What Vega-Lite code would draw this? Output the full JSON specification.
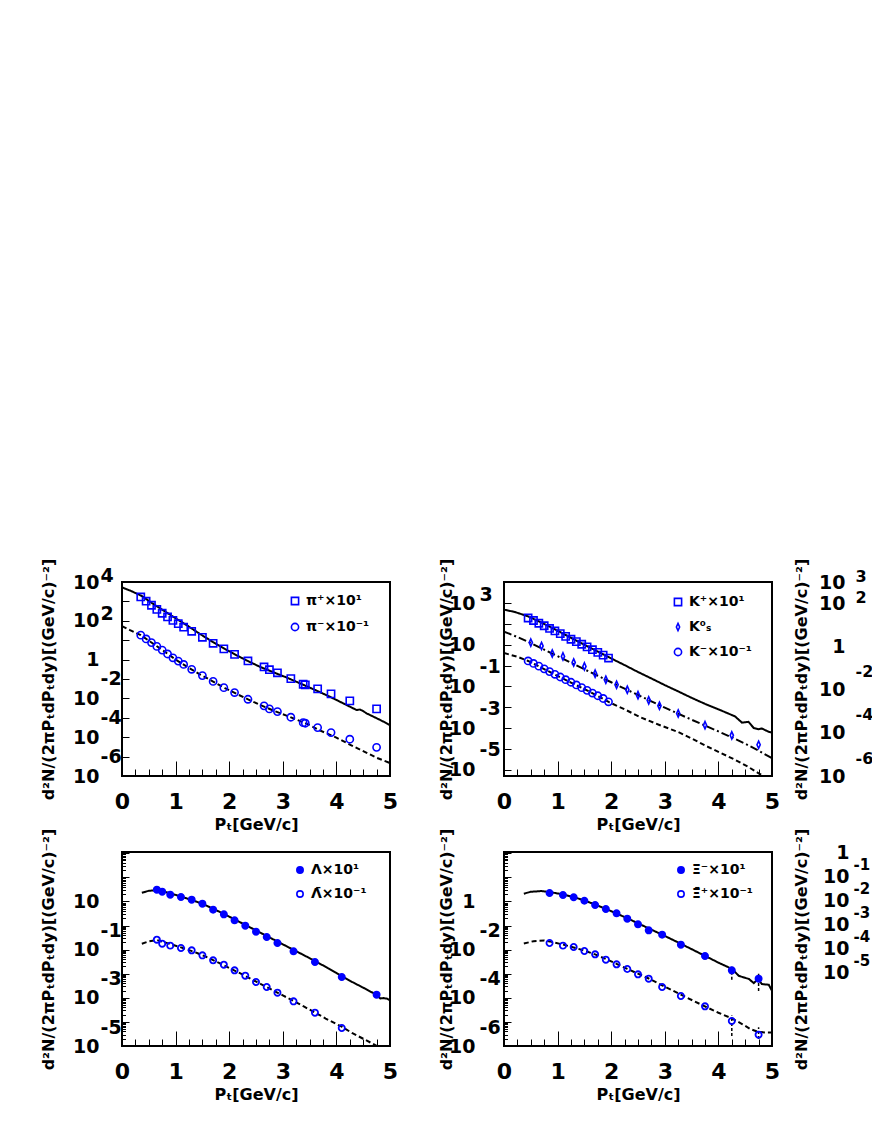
{
  "$schema": "https://vega.github.io/schema/vega-lite/v6.json",
  "padding": {"left": 38, "top": 557, "right": 0, "bottom": 5},
  "background": "white",
  "columns": 3,
  "spacing": {"row": 76, "column": 114},
  "bounds": "flush",
  "align": "each",
  "datasets": {
    "empty": [],
    "p1pts": [
      {"pt":0.35,"yield":1698,"series":"π⁺×10¹"},{"pt":0.45,"yield":1023,"series":"π⁺×10¹"},{"pt":0.55,"yield":631,"series":"π⁺×10¹"},{"pt":0.65,"yield":389,"series":"π⁺×10¹"},{"pt":0.75,"yield":245,"series":"π⁺×10¹"},{"pt":0.85,"yield":158,"series":"π⁺×10¹"},{"pt":0.95,"yield":105,"series":"π⁺×10¹"},{"pt":1.05,"yield":70.8,"series":"π⁺×10¹"},{"pt":1.15,"yield":46.8,"series":"π⁺×10¹"},{"pt":1.3,"yield":28.8,"series":"π⁺×10¹"},{"pt":1.5,"yield":14.1,"series":"π⁺×10¹"},{"pt":1.7,"yield":6.92,"series":"π⁺×10¹"},{"pt":1.9,"yield":3.55,"series":"π⁺×10¹"},{"pt":2.1,"yield":1.86,"series":"π⁺×10¹"},{"pt":2.35,"yield":0.851,"series":"π⁺×10¹"},{"pt":2.65,"yield":0.417,"series":"π⁺×10¹"},{"pt":2.75,"yield":0.302,"series":"π⁺×10¹"},{"pt":2.9,"yield":0.209,"series":"π⁺×10¹"},{"pt":3.15,"yield":0.105,"series":"π⁺×10¹"},{"pt":3.38,"yield":0.0537,"series":"π⁺×10¹"},{"pt":3.42,"yield":0.0501,"series":"π⁺×10¹"},{"pt":3.65,"yield":0.0309,"series":"π⁺×10¹"},{"pt":3.9,"yield":0.017,"series":"π⁺×10¹"},{"pt":4.25,"yield":0.00741,"series":"π⁺×10¹"},{"pt":4.75,"yield":0.00288,"series":"π⁺×10¹"},
      {"pt":0.35,"yield":18.2,"series":"π⁻×10⁻¹"},{"pt":0.45,"yield":11.6,"series":"π⁻×10⁻¹"},{"pt":0.55,"yield":7.5,"series":"π⁻×10⁻¹"},{"pt":0.65,"yield":4.79,"series":"π⁻×10⁻¹"},{"pt":0.75,"yield":3.09,"series":"π⁻×10⁻¹"},{"pt":0.85,"yield":1.95,"series":"π⁻×10⁻¹"},{"pt":0.95,"yield":1.24,"series":"π⁻×10⁻¹"},{"pt":1.05,"yield":0.838,"series":"π⁻×10⁻¹"},{"pt":1.15,"yield":0.562,"series":"π⁻×10⁻¹"},{"pt":1.3,"yield":0.316,"series":"π⁻×10⁻¹"},{"pt":1.5,"yield":0.15,"series":"π⁻×10⁻¹"},{"pt":1.7,"yield":0.075,"series":"π⁻×10⁻¹"},{"pt":1.9,"yield":0.0359,"series":"π⁻×10⁻¹"},{"pt":2.1,"yield":0.02,"series":"π⁻×10⁻¹"},{"pt":2.35,"yield":0.00902,"series":"π⁻×10⁻¹"},{"pt":2.65,"yield":0.00412,"series":"π⁻×10⁻¹"},{"pt":2.75,"yield":0.00288,"series":"π⁻×10⁻¹"},{"pt":2.9,"yield":0.00209,"series":"π⁻×10⁻¹"},{"pt":3.15,"yield":0.00107,"series":"π⁻×10⁻¹"},{"pt":3.38,"yield":0.000562,"series":"π⁻×10⁻¹"},{"pt":3.42,"yield":0.000525,"series":"π⁻×10⁻¹"},{"pt":3.65,"yield":0.000313,"series":"π⁻×10⁻¹"},{"pt":3.9,"yield":0.000174,"series":"π⁻×10⁻¹"},{"pt":4.25,"yield":0.0000785,"series":"π⁻×10⁻¹"},{"pt":4.75,"yield":0.0000299,"series":"π⁻×10⁻¹"}
    ],
    "p1cur": [
      {"pt":0,"yield":5248,"curve":"pip"},{"pt":0.15,"yield":3631,"curve":"pip"},{"pt":0.37,"yield":1905,"curve":"pip"},{"pt":0.55,"yield":851,"curve":"pip"},{"pt":0.77,"yield":347,"curve":"pip"},{"pt":1.0,"yield":135,"curve":"pip"},{"pt":1.21,"yield":58.9,"curve":"pip"},{"pt":1.45,"yield":21.4,"curve":"pip"},{"pt":1.7,"yield":7.94,"curve":"pip"},{"pt":1.92,"yield":3.55,"curve":"pip"},{"pt":2.14,"yield":1.66,"curve":"pip"},{"pt":2.36,"yield":0.813,"curve":"pip"},{"pt":2.58,"yield":0.417,"curve":"pip"},{"pt":2.82,"yield":0.224,"curve":"pip"},{"pt":3.07,"yield":0.12,"curve":"pip"},{"pt":3.26,"yield":0.0708,"curve":"pip"},{"pt":3.45,"yield":0.0417,"curve":"pip"},{"pt":3.63,"yield":0.0251,"curve":"pip"},{"pt":3.82,"yield":0.0145,"curve":"pip"},{"pt":4.0,"yield":0.00832,"curve":"pip"},{"pt":4.19,"yield":0.00457,"curve":"pip"},{"pt":4.32,"yield":0.00302,"curve":"pip"},{"pt":4.38,"yield":0.00251,"curve":"pip"},{"pt":4.44,"yield":0.00269,"curve":"pip"},{"pt":4.5,"yield":0.00219,"curve":"pip"},{"pt":4.57,"yield":0.00166,"curve":"pip"},{"pt":4.69,"yield":0.00115,"curve":"pip"},{"pt":4.88,"yield":0.000631,"curve":"pip"},{"pt":5.0,"yield":0.000417,"curve":"pip"},
      {"pt":0,"yield":53.7,"curve":"pim"},{"pt":0.15,"yield":33.1,"curve":"pim"},{"pt":0.35,"yield":18.2,"curve":"pim"},{"pt":0.55,"yield":7.59,"curve":"pim"},{"pt":0.77,"yield":2.88,"curve":"pim"},{"pt":1.0,"yield":1.0,"curve":"pim"},{"pt":1.21,"yield":0.437,"curve":"pim"},{"pt":1.45,"yield":0.174,"curve":"pim"},{"pt":1.7,"yield":0.0741,"curve":"pim"},{"pt":1.92,"yield":0.0339,"curve":"pim"},{"pt":2.14,"yield":0.017,"curve":"pim"},{"pt":2.36,"yield":0.00871,"curve":"pim"},{"pt":2.58,"yield":0.00457,"curve":"pim"},{"pt":2.82,"yield":0.0024,"curve":"pim"},{"pt":3.07,"yield":0.00129,"curve":"pim"},{"pt":3.26,"yield":0.000794,"curve":"pim"},{"pt":3.45,"yield":0.00049,"curve":"pim"},{"pt":3.69,"yield":0.000224,"curve":"pim"},{"pt":4.0,"yield":0.0000955,"curve":"pim"},{"pt":4.25,"yield":0.0000417,"curve":"pim"},{"pt":4.5,"yield":0.0000191,"curve":"pim"},{"pt":4.76,"yield":0.00000851,"curve":"pim"},{"pt":5.0,"yield":0.00000468,"curve":"pim"}
    ],
    "p2pts": [
      {"pt":0.45,"yield":190.5,"series":"K⁺×10¹"},{"pt":0.55,"yield":144.5,"series":"K⁺×10¹"},{"pt":0.65,"yield":107.2,"series":"K⁺×10¹"},{"pt":0.75,"yield":81.3,"series":"K⁺×10¹"},{"pt":0.85,"yield":60.3,"series":"K⁺×10¹"},{"pt":0.95,"yield":45.7,"series":"K⁺×10¹"},{"pt":1.05,"yield":33.9,"series":"K⁺×10¹"},{"pt":1.15,"yield":25.1,"series":"K⁺×10¹"},{"pt":1.25,"yield":18.2,"series":"K⁺×10¹"},{"pt":1.35,"yield":14.1,"series":"K⁺×10¹"},{"pt":1.45,"yield":10.5,"series":"K⁺×10¹"},{"pt":1.55,"yield":7.9,"series":"K⁺×10¹"},{"pt":1.65,"yield":5.75,"series":"K⁺×10¹"},{"pt":1.75,"yield":4.27,"series":"K⁺×10¹"},{"pt":1.85,"yield":3.16,"series":"K⁺×10¹"},{"pt":1.95,"yield":2.29,"series":"K⁺×10¹"},
      {"pt":0.5,"yield":12.6,"series":"K⁰ₛ"},{"pt":0.7,"yield":8.71,"series":"K⁰ₛ"},{"pt":0.9,"yield":3.8,"series":"K⁰ₛ"},{"pt":1.1,"yield":2.75,"series":"K⁰ₛ"},{"pt":1.3,"yield":1.41,"series":"K⁰ₛ"},{"pt":1.5,"yield":0.912,"series":"K⁰ₛ"},{"pt":1.7,"yield":0.407,"series":"K⁰ₛ"},{"pt":1.9,"yield":0.209,"series":"K⁰ₛ"},{"pt":2.1,"yield":0.12,"series":"K⁰ₛ"},{"pt":2.3,"yield":0.0692,"series":"K⁰ₛ"},{"pt":2.5,"yield":0.038,"series":"K⁰ₛ"},{"pt":2.7,"yield":0.0214,"series":"K⁰ₛ"},{"pt":2.9,"yield":0.0117,"series":"K⁰ₛ"},{"pt":3.25,"yield":0.00501,"series":"K⁰ₛ"},{"pt":3.75,"yield":0.00138,"series":"K⁰ₛ"},{"pt":4.25,"yield":0.000447,"series":"K⁰ₛ"},{"pt":4.75,"yield":0.000158,"series":"K⁰ₛ"},
      {"pt":0.45,"yield":1.66,"series":"K⁻×10⁻¹"},{"pt":0.55,"yield":1.26,"series":"K⁻×10⁻¹"},{"pt":0.65,"yield":0.933,"series":"K⁻×10⁻¹"},{"pt":0.75,"yield":0.692,"series":"K⁻×10⁻¹"},{"pt":0.85,"yield":0.513,"series":"K⁻×10⁻¹"},{"pt":0.95,"yield":0.38,"series":"K⁻×10⁻¹"},{"pt":1.05,"yield":0.282,"series":"K⁻×10⁻¹"},{"pt":1.15,"yield":0.209,"series":"K⁻×10⁻¹"},{"pt":1.25,"yield":0.158,"series":"K⁻×10⁻¹"},{"pt":1.35,"yield":0.117,"series":"K⁻×10⁻¹"},{"pt":1.45,"yield":0.0871,"series":"K⁻×10⁻¹"},{"pt":1.55,"yield":0.0646,"series":"K⁻×10⁻¹"},{"pt":1.65,"yield":0.0479,"series":"K⁻×10⁻¹"},{"pt":1.75,"yield":0.0355,"series":"K⁻×10⁻¹"},{"pt":1.85,"yield":0.0263,"series":"K⁻×10⁻¹"},{"pt":1.95,"yield":0.0182,"series":"K⁻×10⁻¹"}
    ],
    "p2cur": [
      {"pt":0,"yield":479,"curve":"kp"},{"pt":0.2,"yield":372,"curve":"kp"},{"pt":0.45,"yield":229,"curve":"kp"},{"pt":0.7,"yield":115,"curve":"kp"},{"pt":1.0,"yield":46.8,"curve":"kp"},{"pt":1.25,"yield":21.4,"curve":"kp"},{"pt":1.5,"yield":10,"curve":"kp"},{"pt":1.75,"yield":4.68,"curve":"kp"},{"pt":2.0,"yield":2.19,"curve":"kp"},{"pt":2.25,"yield":1.05,"curve":"kp"},{"pt":2.5,"yield":0.49,"curve":"kp"},{"pt":2.75,"yield":0.24,"curve":"kp"},{"pt":3.0,"yield":0.115,"curve":"kp"},{"pt":3.25,"yield":0.0575,"curve":"kp"},{"pt":3.5,"yield":0.0282,"curve":"kp"},{"pt":3.75,"yield":0.0145,"curve":"kp"},{"pt":4.0,"yield":0.00794,"curve":"kp"},{"pt":4.2,"yield":0.00479,"curve":"kp"},{"pt":4.31,"yield":0.00363,"curve":"kp"},{"pt":4.44,"yield":0.00182,"curve":"kp"},{"pt":4.56,"yield":0.002,"curve":"kp"},{"pt":4.66,"yield":0.001,"curve":"kp"},{"pt":4.75,"yield":0.000871,"curve":"kp"},{"pt":4.81,"yield":0.000955,"curve":"kp"},{"pt":4.94,"yield":0.000661,"curve":"kp"},{"pt":5.0,"yield":0.000603,"curve":"kp"},
      {"pt":0,"yield":42.7,"curve":"ks"},{"pt":0.25,"yield":23.4,"curve":"ks"},{"pt":0.5,"yield":12.0,"curve":"ks"},{"pt":0.75,"yield":5.75,"curve":"ks"},{"pt":1.0,"yield":2.82,"curve":"ks"},{"pt":1.25,"yield":1.35,"curve":"ks"},{"pt":1.5,"yield":0.661,"curve":"ks"},{"pt":1.75,"yield":0.324,"curve":"ks"},{"pt":2.0,"yield":0.158,"curve":"ks"},{"pt":2.25,"yield":0.0776,"curve":"ks"},{"pt":2.5,"yield":0.0389,"curve":"ks"},{"pt":2.75,"yield":0.0191,"curve":"ks"},{"pt":3.0,"yield":0.00955,"curve":"ks"},{"pt":3.25,"yield":0.0049,"curve":"ks"},{"pt":3.5,"yield":0.00251,"curve":"ks"},{"pt":3.75,"yield":0.00132,"curve":"ks"},{"pt":4.0,"yield":0.000692,"curve":"ks"},{"pt":4.25,"yield":0.000355,"curve":"ks"},{"pt":4.5,"yield":0.000178,"curve":"ks"},{"pt":4.75,"yield":0.0000832,"curve":"ks"},{"pt":5.0,"yield":0.0000355,"curve":"ks"},
      {"pt":0,"yield":3.98,"curve":"km"},{"pt":0.25,"yield":2.63,"curve":"km"},{"pt":0.45,"yield":1.66,"curve":"km"},{"pt":0.75,"yield":0.676,"curve":"km"},{"pt":1.0,"yield":0.316,"curve":"km"},{"pt":1.25,"yield":0.151,"curve":"km"},{"pt":1.5,"yield":0.0741,"curve":"km"},{"pt":1.75,"yield":0.0347,"curve":"km"},{"pt":1.96,"yield":0.0174,"curve":"km"},{"pt":2.25,"yield":0.00794,"curve":"km"},{"pt":2.56,"yield":0.00316,"curve":"km"},{"pt":2.9,"yield":0.00141,"curve":"km"},{"pt":3.25,"yield":0.000646,"curve":"km"},{"pt":3.5,"yield":0.000316,"curve":"km"},{"pt":3.81,"yield":0.000123,"curve":"km"},{"pt":4.05,"yield":0.0000631,"curve":"km"},{"pt":4.31,"yield":0.0000302,"curve":"km"},{"pt":4.55,"yield":0.0000141,"curve":"km"},{"pt":4.75,"yield":0.00000676,"curve":"km"},{"pt":4.95,"yield":0.00000355,"curve":"km"}
    ],
    "p3pts": [
      {"pt":0.65,"yield":30.7,"series":"Λ×10¹"},{"pt":0.75,"yield":25.4,"series":"Λ×10¹"},{"pt":0.9,"yield":19.0,"series":"Λ×10¹"},{"pt":1.1,"yield":15.2,"series":"Λ×10¹"},{"pt":1.3,"yield":11.8,"series":"Λ×10¹"},{"pt":1.5,"yield":8.05,"series":"Λ×10¹"},{"pt":1.7,"yield":4.54,"series":"Λ×10¹"},{"pt":1.9,"yield":2.91,"series":"Λ×10¹"},{"pt":2.1,"yield":1.64,"series":"Λ×10¹"},{"pt":2.3,"yield":0.984,"series":"Λ×10¹"},{"pt":2.5,"yield":0.555,"series":"Λ×10¹"},{"pt":2.7,"yield":0.333,"series":"Λ×10¹"},{"pt":2.9,"yield":0.188,"series":"Λ×10¹"},{"pt":3.2,"yield":0.0847,"series":"Λ×10¹"},{"pt":3.6,"yield":0.0305,"series":"Λ×10¹"},{"pt":4.1,"yield":0.00729,"series":"Λ×10¹"},{"pt":4.75,"yield":0.00135,"series":"Λ×10¹"},
      {"pt":0.65,"yield":0.258,"series":"Λ̄×10⁻¹"},{"pt":0.75,"yield":0.176,"series":"Λ̄×10⁻¹"},{"pt":0.9,"yield":0.146,"series":"Λ̄×10⁻¹"},{"pt":1.1,"yield":0.117,"series":"Λ̄×10⁻¹"},{"pt":1.3,"yield":0.0933,"series":"Λ̄×10⁻¹"},{"pt":1.5,"yield":0.0578,"series":"Λ̄×10⁻¹"},{"pt":1.7,"yield":0.0359,"series":"Λ̄×10⁻¹"},{"pt":1.9,"yield":0.0237,"series":"Λ̄×10⁻¹"},{"pt":2.1,"yield":0.0138,"series":"Λ̄×10⁻¹"},{"pt":2.3,"yield":0.0083,"series":"Λ̄×10⁻¹"},{"pt":2.5,"yield":0.00453,"series":"Λ̄×10⁻¹"},{"pt":2.7,"yield":0.00281,"series":"Λ̄×10⁻¹"},{"pt":2.9,"yield":0.00163,"series":"Λ̄×10⁻¹"},{"pt":3.2,"yield":0.000713,"series":"Λ̄×10⁻¹"},{"pt":3.6,"yield":0.000242,"series":"Λ̄×10⁻¹"},{"pt":4.1,"yield":0.0000558,"series":"Λ̄×10⁻¹"}
    ],
    "p3cur": [
      {"pt":0.37,"yield":22.9,"curve":"l"},{"pt":0.5,"yield":27.5,"curve":"l"},{"pt":0.65,"yield":29.5,"curve":"l"},{"pt":0.8,"yield":25.1,"curve":"l"},{"pt":1.0,"yield":18.6,"curve":"l"},{"pt":1.2,"yield":13.5,"curve":"l"},{"pt":1.4,"yield":9.55,"curve":"l"},{"pt":1.6,"yield":6.31,"curve":"l"},{"pt":1.8,"yield":3.89,"curve":"l"},{"pt":2.0,"yield":2.34,"curve":"l"},{"pt":2.2,"yield":1.38,"curve":"l"},{"pt":2.4,"yield":0.813,"curve":"l"},{"pt":2.6,"yield":0.479,"curve":"l"},{"pt":2.8,"yield":0.282,"curve":"l"},{"pt":3.0,"yield":0.166,"curve":"l"},{"pt":3.2,"yield":0.0977,"curve":"l"},{"pt":3.4,"yield":0.0575,"curve":"l"},{"pt":3.6,"yield":0.0339,"curve":"l"},{"pt":3.8,"yield":0.0191,"curve":"l"},{"pt":4.0,"yield":0.0107,"curve":"l"},{"pt":4.1,"yield":0.00794,"curve":"l"},{"pt":4.3,"yield":0.00447,"curve":"l"},{"pt":4.5,"yield":0.00263,"curve":"l"},{"pt":4.65,"yield":0.00174,"curve":"l"},{"pt":4.75,"yield":0.00135,"curve":"l"},{"pt":4.82,"yield":0.000933,"curve":"l"},{"pt":4.88,"yield":0.000977,"curve":"l"},{"pt":4.95,"yield":0.000912,"curve":"l"},{"pt":5.0,"yield":0.000794,"curve":"l"},
      {"pt":0.37,"yield":0.174,"curve":"lb"},{"pt":0.5,"yield":0.219,"curve":"lb"},{"pt":0.65,"yield":0.251,"curve":"lb"},{"pt":0.8,"yield":0.2,"curve":"lb"},{"pt":1.0,"yield":0.145,"curve":"lb"},{"pt":1.2,"yield":0.105,"curve":"lb"},{"pt":1.4,"yield":0.0724,"curve":"lb"},{"pt":1.6,"yield":0.0468,"curve":"lb"},{"pt":1.8,"yield":0.0288,"curve":"lb"},{"pt":2.0,"yield":0.0174,"curve":"lb"},{"pt":2.2,"yield":0.0105,"curve":"lb"},{"pt":2.4,"yield":0.00617,"curve":"lb"},{"pt":2.6,"yield":0.00363,"curve":"lb"},{"pt":2.8,"yield":0.00214,"curve":"lb"},{"pt":3.0,"yield":0.00126,"curve":"lb"},{"pt":3.2,"yield":0.000741,"curve":"lb"},{"pt":3.4,"yield":0.000427,"curve":"lb"},{"pt":3.6,"yield":0.000245,"curve":"lb"},{"pt":3.8,"yield":0.000138,"curve":"lb"},{"pt":4.1,"yield":0.0000631,"curve":"lb"},{"pt":4.3,"yield":0.0000339,"curve":"lb"},{"pt":4.5,"yield":0.00002,"curve":"lb"},{"pt":4.76,"yield":0.00001,"curve":"lb"},{"pt":4.85,"yield":0.00000759,"curve":"lb"}
    ],
    "p4pts": [
      {"pt":0.85,"yield":2.23,"series":"Ξ⁻×10¹"},{"pt":1.1,"yield":1.85,"series":"Ξ⁻×10¹"},{"pt":1.3,"yield":1.48,"series":"Ξ⁻×10¹"},{"pt":1.5,"yield":1.07,"series":"Ξ⁻×10¹"},{"pt":1.7,"yield":0.71,"series":"Ξ⁻×10¹"},{"pt":1.9,"yield":0.484,"series":"Ξ⁻×10¹"},{"pt":2.1,"yield":0.32,"series":"Ξ⁻×10¹"},{"pt":2.3,"yield":0.192,"series":"Ξ⁻×10¹"},{"pt":2.5,"yield":0.112,"series":"Ξ⁻×10¹"},{"pt":2.7,"yield":0.0631,"series":"Ξ⁻×10¹"},{"pt":2.95,"yield":0.0417,"series":"Ξ⁻×10¹"},{"pt":3.3,"yield":0.016,"series":"Ξ⁻×10¹"},{"pt":3.75,"yield":0.00543,"series":"Ξ⁻×10¹"},{"pt":4.25,"yield":0.00138,"series":"Ξ⁻×10¹"},{"pt":4.75,"yield":0.000622,"series":"Ξ⁻×10¹"},
      {"pt":0.85,"yield":0.0188,"series":"Ξ̄⁺×10⁻¹"},{"pt":1.1,"yield":0.0146,"series":"Ξ̄⁺×10⁻¹"},{"pt":1.3,"yield":0.0128,"series":"Ξ̄⁺×10⁻¹"},{"pt":1.5,"yield":0.00875,"series":"Ξ̄⁺×10⁻¹"},{"pt":1.7,"yield":0.00637,"series":"Ξ̄⁺×10⁻¹"},{"pt":1.9,"yield":0.00383,"series":"Ξ̄⁺×10⁻¹"},{"pt":2.1,"yield":0.00245,"series":"Ξ̄⁺×10⁻¹"},{"pt":2.3,"yield":0.00157,"series":"Ξ̄⁺×10⁻¹"},{"pt":2.5,"yield":0.000942,"series":"Ξ̄⁺×10⁻¹"},{"pt":2.7,"yield":0.000622,"series":"Ξ̄⁺×10⁻¹"},{"pt":2.95,"yield":0.000281,"series":"Ξ̄⁺×10⁻¹"},{"pt":3.3,"yield":0.000119,"series":"Ξ̄⁺×10⁻¹"},{"pt":3.75,"yield":0.0000443,"series":"Ξ̄⁺×10⁻¹"},{"pt":4.25,"yield":0.0000109,"series":"Ξ̄⁺×10⁻¹"},{"pt":4.75,"yield":0.00000295,"series":"Ξ̄⁺×10⁻¹"}
    ],
    "p4err": [
      {"pt":4.25,"lo":0.000562,"hi":0.00224},{"pt":4.75,"lo":0.000191,"hi":0.001},
      {"pt":4.25,"lo":0.00000263,"hi":0.0000186},{"pt":4.75,"lo":0.00000195,"hi":0.00000603}
    ],
    "p4cur": [
      {"pt":0.37,"yield":2.09,"curve":"x"},{"pt":0.5,"yield":2.51,"curve":"x"},{"pt":0.7,"yield":2.69,"curve":"x"},{"pt":0.85,"yield":2.45,"curve":"x"},{"pt":1.1,"yield":1.95,"curve":"x"},{"pt":1.3,"yield":1.51,"curve":"x"},{"pt":1.5,"yield":1.1,"curve":"x"},{"pt":1.7,"yield":0.741,"curve":"x"},{"pt":1.9,"yield":0.49,"curve":"x"},{"pt":2.1,"yield":0.316,"curve":"x"},{"pt":2.3,"yield":0.2,"curve":"x"},{"pt":2.5,"yield":0.123,"curve":"x"},{"pt":2.7,"yield":0.0759,"curve":"x"},{"pt":2.95,"yield":0.0417,"curve":"x"},{"pt":3.3,"yield":0.0174,"curve":"x"},{"pt":3.75,"yield":0.0055,"curve":"x"},{"pt":4.0,"yield":0.00288,"curve":"x"},{"pt":4.26,"yield":0.00155,"curve":"x"},{"pt":4.38,"yield":0.000813,"curve":"x"},{"pt":4.57,"yield":0.000603,"curve":"x"},{"pt":4.66,"yield":0.000407,"curve":"x"},{"pt":4.74,"yield":0.000603,"curve":"x"},{"pt":4.81,"yield":0.000372,"curve":"x"},{"pt":4.94,"yield":0.000347,"curve":"x"},{"pt":5.0,"yield":0.000195,"curve":"x"},
      {"pt":0.37,"yield":0.0178,"curve":"xb"},{"pt":0.55,"yield":0.0224,"curve":"xb"},{"pt":0.75,"yield":0.024,"curve":"xb"},{"pt":0.85,"yield":0.0219,"curve":"xb"},{"pt":1.1,"yield":0.0162,"curve":"xb"},{"pt":1.3,"yield":0.0123,"curve":"xb"},{"pt":1.5,"yield":0.00912,"curve":"xb"},{"pt":1.7,"yield":0.00631,"curve":"xb"},{"pt":1.9,"yield":0.00407,"curve":"xb"},{"pt":2.1,"yield":0.00257,"curve":"xb"},{"pt":2.3,"yield":0.00158,"curve":"xb"},{"pt":2.5,"yield":0.001,"curve":"xb"},{"pt":2.7,"yield":0.000631,"curve":"xb"},{"pt":2.95,"yield":0.000331,"curve":"xb"},{"pt":3.3,"yield":0.000135,"curve":"xb"},{"pt":3.75,"yield":0.0000437,"curve":"xb"},{"pt":4.0,"yield":0.000024,"curve":"xb"},{"pt":4.25,"yield":0.0000141,"curve":"xb"},{"pt":4.45,"yield":0.00000794,"curve":"xb"},{"pt":4.6,"yield":0.00000501,"curve":"xb"},{"pt":4.75,"yield":0.0000038,"curve":"xb"},{"pt":4.9,"yield":0.00000363,"curve":"xb"},{"pt":5.0,"yield":0.00000363,"curve":"xb"}
    ]
  },
  "concat": [
    {
      "width": 268, "height": 194,
      "layer": [
        {"data": {"name": "p1cur"}, "mark": {"type": "line", "color": "black", "strokeWidth": 2, "clip": true},
         "encoding": {
           "x": {"field": "pt", "type": "quantitative", "scale": {"domain": [0, 5], "nice": false, "zero": false},
                 "axis": {"orient": "bottom", "values": [0,1,2,3,4,5], "ticks": false, "format": "d", "title": "Pₜ[GeV/c]"}},
           "y": {"field": "yield", "type": "quantitative", "scale": {"type": "log", "domain": [0.000001, 10000], "nice": false},
                 "axis": {"orient": "left", "values": [10000, 100, 1, 0.01, 0.0001, 0.000001], "ticks": false, "labelAlign": "right", "labelPadding": 23, "titleX": -69, "title": "d²N/(2πPₜdPₜdy)[(GeV/c)⁻²]",
                          "labelExpr": "datum.value == 1 ? '1' : '10'"}},
           "strokeDash": {"field": "curve", "type": "nominal", "scale": {"domain": ["pip", "pim"], "range": [[1, 0], [5, 3]]}, "legend": null}
         }},
        {"data": {"name": "empty"}, "mark": "point",
         "encoding": {
           "x": {"field": "pt", "type": "quantitative", "axis": null},
           "y": {"field": "yield", "type": "quantitative",
                 "axis": {"orient": "left", "values": [10000, 100, 0.01, 0.0001, 0.000001], "ticks": false, "labelAlign": "left", "labelPadding": 22, "title": null,
                          "labelOffset": {"condition": {"test": "datum.value > 1", "value": -7}, "value": -20},
                          "labelExpr": "'' + round(log(datum.value)/LN10)"}}
         }},
        {"data": {"name": "p1pts"}, "mark": {"type": "point", "filled": false, "color": "#0000ff", "opacity": 1, "strokeWidth": 1.6, "size": 52, "clip": true},
         "encoding": {
           "x": {"field": "pt", "type": "quantitative",
                 "axis": {"orient": "bottom", "values": [0,0.25,0.5,0.75,1,1.25,1.5,1.75,2,2.25,2.5,2.75,3,3.25,3.5,3.75,4,4.25,4.5,4.75,5], "labels": false, "title": null,
                          "tickSize": {"condition": {"test": "datum.value % 1 == 0", "value": -15}, "value": -7}}},
           "y": {"field": "yield", "type": "quantitative",
                 "axis": {"orient": "left", "values": [0.000001,0.00001,0.0001,0.001,0.01,0.1,1,10,100,1000,10000], "labels": false, "title": null, "tickSize": -7}},
           "shape": {"field": "series", "type": "nominal", "scale": {"domain": ["π⁺×10¹", "π⁻×10⁻¹"], "range": ["square", "circle"]},
                     "legend": {"title": null, "orient": "none", "legendX": 166, "legendY": 12, "symbolFillColor": "transparent", "rowPadding": 12}}
         }}
      ],
      "resolve": {"axis": {"x": "independent", "y": "independent"}}
    },
    {
      "width": 268, "height": 194,
      "layer": [
        {"data": {"name": "p2cur"}, "mark": {"type": "line", "color": "black", "strokeWidth": 2, "clip": true},
         "encoding": {
           "x": {"field": "pt", "type": "quantitative", "scale": {"domain": [0, 5], "nice": false, "zero": false},
                 "axis": {"orient": "bottom", "values": [0,1,2,3,4,5], "ticks": false, "format": "d", "title": "Pₜ[GeV/c]"}},
           "y": {"field": "yield", "type": "quantitative", "scale": {"type": "log", "domain": [0.00000501, 10200], "nice": false},
                 "axis": {"orient": "left", "values": [1000, 10, 0.1, 0.001, 0.00001], "ticks": false, "labelAlign": "right", "labelPadding": 29, "titleX": -53, "title": "d²N/(2πPₜdPₜdy)[(GeV/c)⁻²]",
                          "labelExpr": "datum.value == 1 ? '1' : '10'"}},
           "strokeDash": {"field": "curve", "type": "nominal", "scale": {"domain": ["kp", "ks", "km"], "range": [[1, 0], [8, 3, 2, 3], [5, 3]]}, "legend": null}
         }},
        {"data": {"name": "empty"}, "mark": "point",
         "encoding": {
           "x": {"field": "pt", "type": "quantitative", "axis": null},
           "y": {"field": "yield", "type": "quantitative",
                 "axis": {"orient": "left", "values": [1000, 0.1, 0.001, 0.00001], "ticks": false, "labelAlign": "left", "labelPadding": 25, "title": null,
                          "labelOffset": {"condition": {"test": "datum.value > 1", "value": -9}, "value": -20},
                          "labelExpr": "'' + round(log(datum.value)/LN10)"}}
         }},
        {"data": {"name": "p2pts"}, "mark": {"type": "point", "filled": false, "color": "#0000ff", "opacity": 1, "strokeWidth": 1.6, "size": 52, "clip": true},
         "encoding": {
           "x": {"field": "pt", "type": "quantitative",
                 "axis": {"orient": "bottom", "values": [0,0.25,0.5,0.75,1,1.25,1.5,1.75,2,2.25,2.5,2.75,3,3.25,3.5,3.75,4,4.25,4.5,4.75,5], "labels": false, "title": null,
                          "tickSize": {"condition": {"test": "datum.value % 1 == 0", "value": -15}, "value": -7}}},
           "y": {"field": "yield", "type": "quantitative",
                 "axis": {"orient": "left", "values": [0.00001,0.0001,0.001,0.01,0.1,1,10,100,1000,10000], "labels": false, "title": null, "tickSize": -7}},
           "shape": {"field": "series", "type": "nominal", "scale": {"domain": ["K⁺×10¹", "K⁰ₛ", "K⁻×10⁻¹"], "range": ["square", "M0,-1L0.45,0L0,1L-0.45,0Z", "circle"]},
                     "legend": {"title": null, "orient": "none", "legendX": 167, "legendY": 13, "symbolFillColor": "transparent", "rowPadding": 11}}
         }}
      ],
      "resolve": {"axis": {"x": "independent", "y": "independent"}}
    },
    {
      "width": 20, "height": 194,
      "view": {"stroke": null},
      "layer": [
        {"data": {"name": "empty"}, "mark": "point",
         "encoding": {
           "x": {"field": "pt", "type": "quantitative", "scale": {"domain": [0, 5]}, "axis": null},
           "y": {"field": "yield", "type": "quantitative", "scale": {"type": "log", "domain": [0.000001, 1000], "nice": false},
                 "axis": {"orient": "left", "values": [1000, 100, 1, 0.01, 0.0001, 0.000001], "ticks": false, "labelAlign": "right", "labelPadding": 41, "titleX": -80, "title": "d²N/(2πPₜdPₜdy)[(GeV/c)⁻²]",
                          "labelExpr": "datum.value == 1 ? '1' : '10'"}}
         }},
        {"data": {"name": "empty"}, "mark": "point",
         "encoding": {
           "x": {"field": "pt", "type": "quantitative", "axis": null},
           "y": {"field": "yield", "type": "quantitative",
                 "axis": {"orient": "left", "values": [1000, 100, 0.01, 0.0001, 0.000001], "ticks": false, "labelAlign": "left", "labelPadding": 31, "labelFontSize": 16, "title": null,
                          "labelOffset": {"condition": {"test": "datum.value > 1", "value": -6}, "value": -18},
                          "labelExpr": "'' + round(log(datum.value)/LN10)"}}
         }}
      ],
      "resolve": {"axis": {"y": "independent"}}
    },
    {
      "width": 268, "height": 194,
      "layer": [
        {"data": {"name": "p3cur"}, "mark": {"type": "line", "color": "black", "strokeWidth": 2, "clip": true},
         "encoding": {
           "x": {"field": "pt", "type": "quantitative", "scale": {"domain": [0, 5], "nice": false, "zero": false},
                 "axis": {"orient": "bottom", "values": [0,1,2,3,4,5], "ticks": false, "format": "d", "title": "Pₜ[GeV/c]"}},
           "y": {"field": "yield", "type": "quantitative", "scale": {"type": "log", "domain": [0.00001, 1122], "nice": false},
                 "axis": {"orient": "left", "values": [10, 0.1, 0.001, 0.00001], "ticks": false, "labelAlign": "right", "labelPadding": 23, "titleX": -69, "title": "d²N/(2πPₜdPₜdy)[(GeV/c)⁻²]",
                          "labelExpr": "datum.value == 1 ? '1' : '10'"}},
           "strokeDash": {"field": "curve", "type": "nominal", "scale": {"domain": ["l", "lb"], "range": [[1, 0], [5, 3]]}, "legend": null}
         }},
        {"data": {"name": "empty"}, "mark": "point",
         "encoding": {
           "x": {"field": "pt", "type": "quantitative", "axis": null},
           "y": {"field": "yield", "type": "quantitative",
                 "axis": {"orient": "left", "values": [0.1, 0.001, 0.00001], "ticks": false, "labelAlign": "left", "labelPadding": 22, "title": null, "labelOffset": -19,
                          "labelExpr": "'' + round(log(datum.value)/LN10)"}}
         }},
        {"data": {"name": "p3pts"}, "mark": {"type": "point", "shape": "circle", "filled": false, "stroke": "#0000ff", "opacity": 1, "strokeWidth": 1.8, "size": 38, "clip": true},
         "encoding": {
           "x": {"field": "pt", "type": "quantitative",
                 "axis": {"orient": "bottom", "values": [0,0.25,0.5,0.75,1,1.25,1.5,1.75,2,2.25,2.5,2.75,3,3.25,3.5,3.75,4,4.25,4.5,4.75,5], "labels": false, "title": null,
                          "tickSize": {"condition": {"test": "datum.value % 1 == 0", "value": -15}, "value": -7}}},
           "y": {"field": "yield", "type": "quantitative",
                 "axis": {"orient": "left", "labels": false, "title": null,
                          "values": [1e-5,2e-5,3e-5,4e-5,5e-5,6e-5,7e-5,8e-5,9e-5,1e-4,2e-4,3e-4,4e-4,5e-4,6e-4,7e-4,8e-4,9e-4,1e-3,2e-3,3e-3,4e-3,5e-3,6e-3,7e-3,8e-3,9e-3,0.01,0.02,0.03,0.04,0.05,0.06,0.07,0.08,0.09,0.1,0.2,0.3,0.4,0.5,0.6,0.7,0.8,0.9,1,2,3,4,5,6,7,8,9,10,20,30,40,50,60,70,80,90,100,200,300,400,500,600,700,800,900,1000],
                          "tickSize": {"condition": {"test": "abs(log(datum.value)/LN10 - round(log(datum.value)/LN10)) < 0.01", "value": -7}, "value": -3.5}}},
           "fill": {"field": "series", "type": "nominal", "scale": {"domain": ["Λ×10¹", "Λ̄×10⁻¹"], "range": ["#0000ff", "transparent"]},
                    "legend": {"title": null, "orient": "none", "legendX": 171, "legendY": 11, "symbolType": "circle", "symbolSize": 40, "rowPadding": 10}}
         }}
      ],
      "resolve": {"axis": {"x": "independent", "y": "independent"}}
    },
    {
      "width": 268, "height": 194,
      "layer": [
        {"data": {"name": "p4cur"}, "mark": {"type": "line", "color": "black", "strokeWidth": 2, "clip": true},
         "encoding": {
           "x": {"field": "pt", "type": "quantitative", "scale": {"domain": [0, 5], "nice": false, "zero": false},
                 "axis": {"orient": "bottom", "values": [0,1,2,3,4,5], "ticks": false, "format": "d", "title": "Pₜ[GeV/c]"}},
           "y": {"field": "yield", "type": "quantitative", "scale": {"type": "log", "domain": [0.000001, 112.2], "nice": false},
                 "axis": {"orient": "left", "values": [1, 0.01, 0.0001, 0.000001], "ticks": false, "labelAlign": "right", "labelPadding": 29, "titleX": -53, "title": "d²N/(2πPₜdPₜdy)[(GeV/c)⁻²]",
                          "labelExpr": "datum.value == 1 ? '1' : '10'"}},
           "strokeDash": {"field": "curve", "type": "nominal", "scale": {"domain": ["x", "xb"], "range": [[1, 0], [5, 3]]}, "legend": null}
         }},
        {"data": {"name": "empty"}, "mark": "point",
         "encoding": {
           "x": {"field": "pt", "type": "quantitative", "axis": null},
           "y": {"field": "yield", "type": "quantitative",
                 "axis": {"orient": "left", "values": [0.01, 0.0001, 0.000001], "ticks": false, "labelAlign": "left", "labelPadding": 25, "title": null, "labelOffset": -19,
                          "labelExpr": "'' + round(log(datum.value)/LN10)"}}
         }},
        {"data": {"name": "p4err"}, "mark": {"type": "rule", "color": "black", "strokeWidth": 1.5, "strokeDash": [3, 2]},
         "encoding": {
           "x": {"field": "pt", "type": "quantitative", "axis": null},
           "y": {"field": "lo", "type": "quantitative", "axis": null},
           "y2": {"field": "hi"}
         }},
        {"data": {"name": "p4pts"}, "mark": {"type": "point", "shape": "circle", "filled": false, "stroke": "#0000ff", "opacity": 1, "strokeWidth": 1.8, "size": 38, "clip": true},
         "encoding": {
           "x": {"field": "pt", "type": "quantitative",
                 "axis": {"orient": "bottom", "values": [0,0.25,0.5,0.75,1,1.25,1.5,1.75,2,2.25,2.5,2.75,3,3.25,3.5,3.75,4,4.25,4.5,4.75,5], "labels": false, "title": null,
                          "tickSize": {"condition": {"test": "datum.value % 1 == 0", "value": -15}, "value": -7}}},
           "y": {"field": "yield", "type": "quantitative",
                 "axis": {"orient": "left", "labels": false, "title": null,
                          "values": [1e-6,2e-6,3e-6,4e-6,5e-6,6e-6,7e-6,8e-6,9e-6,1e-5,2e-5,3e-5,4e-5,5e-5,6e-5,7e-5,8e-5,9e-5,1e-4,2e-4,3e-4,4e-4,5e-4,6e-4,7e-4,8e-4,9e-4,1e-3,2e-3,3e-3,4e-3,5e-3,6e-3,7e-3,8e-3,9e-3,0.01,0.02,0.03,0.04,0.05,0.06,0.07,0.08,0.09,0.1,0.2,0.3,0.4,0.5,0.6,0.7,0.8,0.9,1,2,3,4,5,6,7,8,9,10,20,30,40,50,60,70,80,90,100],
                          "tickSize": {"condition": {"test": "abs(log(datum.value)/LN10 - round(log(datum.value)/LN10)) < 0.01", "value": -7}, "value": -3.5}}},
           "fill": {"field": "series", "type": "nominal", "scale": {"domain": ["Ξ⁻×10¹", "Ξ̄⁺×10⁻¹"], "range": ["#0000ff", "transparent"]},
                    "legend": {"title": null, "orient": "none", "legendX": 170, "legendY": 11, "symbolType": "circle", "symbolSize": 40, "rowPadding": 10}}
         }}
      ],
      "resolve": {"axis": {"x": "independent", "y": "independent"}}
    },
    {
      "width": 20, "height": 194,
      "view": {"stroke": null},
      "layer": [
        {"data": {"name": "empty"}, "mark": "point",
         "encoding": {
           "x": {"field": "pt", "type": "quantitative", "scale": {"domain": [0, 5]}, "axis": null},
           "y": {"field": "yield", "type": "quantitative", "scale": {"type": "log", "domain": [0.0000000083, 1], "nice": false},
                 "axis": {"orient": "left", "values": [1, 0.1, 0.01, 0.001, 0.0001, 0.00001], "ticks": false, "labelAlign": "right", "labelPadding": 37, "titleX": -80, "title": "d²N/(2πPₜdPₜdy)[(GeV/c)⁻²]",
                          "labelExpr": "datum.value == 1 ? '1' : '10'"}}
         }},
        {"data": {"name": "empty"}, "mark": "point",
         "encoding": {
           "x": {"field": "pt", "type": "quantitative", "axis": null},
           "y": {"field": "yield", "type": "quantitative",
                 "axis": {"orient": "left", "values": [0.1, 0.01, 0.001, 0.0001, 0.00001], "ticks": false, "labelAlign": "left", "labelPadding": 33, "labelFontSize": 15, "title": null, "labelOffset": -12,
                          "labelExpr": "'' + round(log(datum.value)/LN10)"}}
         }}
      ],
      "resolve": {"axis": {"y": "independent"}}
    }
  ],
  "resolve": {
    "scale": {"shape": "independent", "fill": "independent", "strokeDash": "independent"},
    "legend": {"shape": "independent", "fill": "independent", "strokeDash": "independent"}
  },
  "config": {
    "background": "white",
    "view": {"stroke": "black", "strokeWidth": 2},
    "font": "DejaVu Sans",
    "axis": {"grid": false, "domain": false, "labelFont": "DejaVu Sans", "labelFontWeight": "bold", "labelColor": "black",
             "titleFont": "DejaVu Sans", "titleFontWeight": "bold", "titleFontSize": 16, "titleColor": "black",
             "tickColor": "black", "tickWidth": 1, "labelOverlap": false, "labelFlush": false, "labelBound": false},
    "axisY": {"labelFontSize": 19, "labelBaseline": "middle", "titleAngle": 270, "titleBaseline": "alphabetic"},
    "axisX": {"labelFontSize": 22, "labelAlign": "center", "labelBaseline": "top", "labelPadding": 15, "titleBaseline": "alphabetic", "titleY": 53},
    "legend": {"labelFont": "DejaVu Sans", "labelFontWeight": "bold", "labelFontSize": 14, "labelColor": "black",
               "symbolStrokeColor": "#0000ff", "symbolStrokeWidth": 1.6, "symbolSize": 52, "labelOffset": 4}
  }
}
